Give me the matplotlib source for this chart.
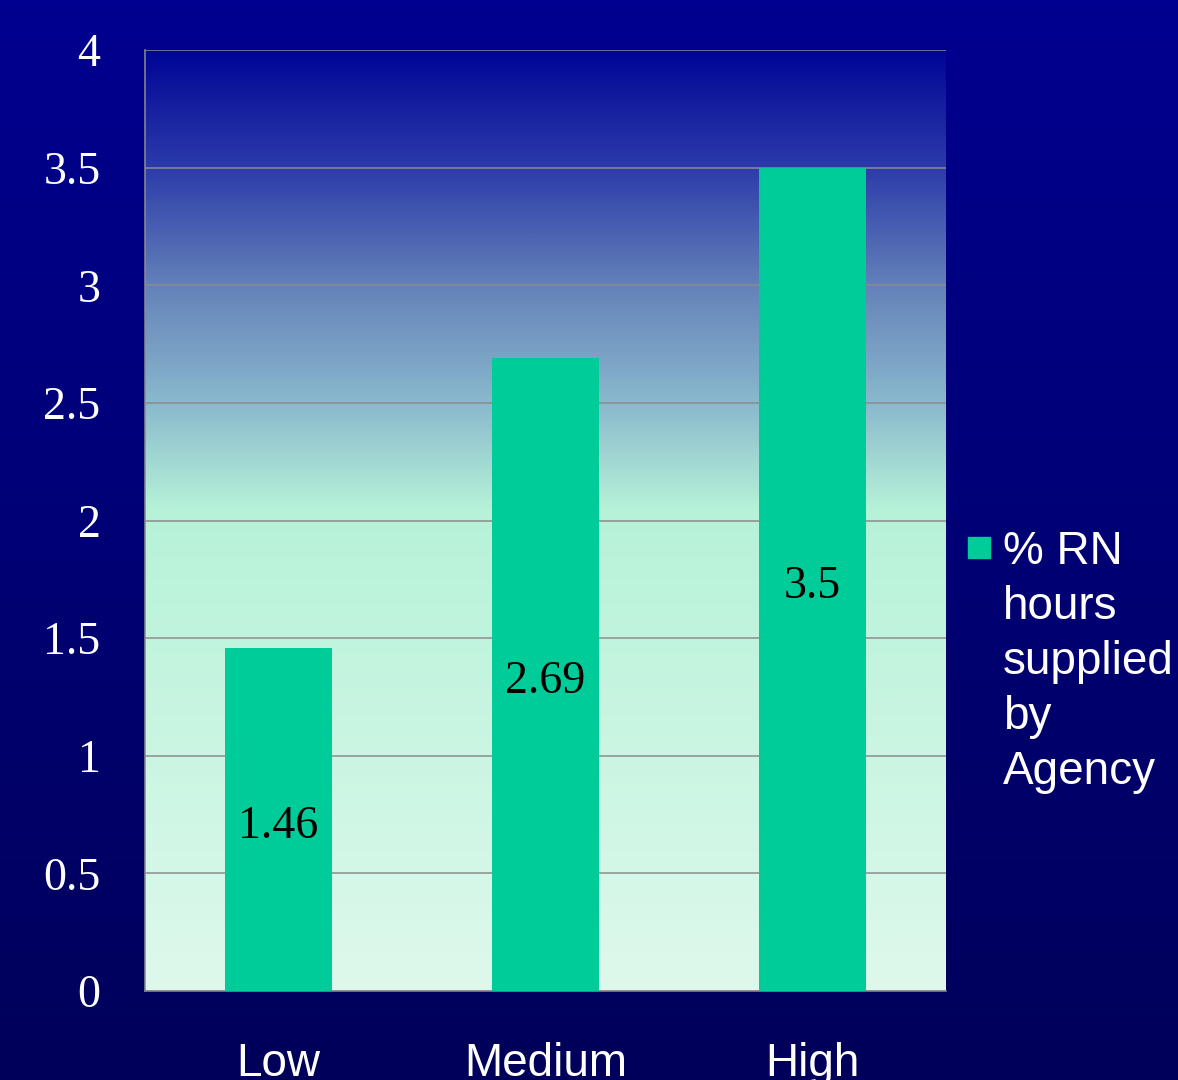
import matplotlib.pyplot as plt
import numpy as np
from matplotlib.colors import LinearSegmentedColormap

categories = ["Low", "Medium", "High"]
values = [1.46, 2.69, 3.5]
value_labels = ["1.46", "2.69", "3.5"]
yticks = [0, 0.5, 1, 1.5, 2, 2.5, 3, 3.5, 4]
ytick_labels = ["0", "0.5", "1", "1.5", "2", "2.5", "3", "3.5", "4"]
legend_label = "% RN\nhours\nsupplied\nby\nAgency"

bar_color = "#00CC99"
serif = ["Liberation Serif", "DejaVu Serif"]
sans = ["Liberation Sans", "DejaVu Sans"]

fig = plt.figure(figsize=(11.78, 10.8), dpi=100)

# dark navy slide background, fading downwards
bg = fig.add_axes([0, 0, 1, 1], zorder=-10)
bg_cmap = LinearSegmentedColormap.from_list("slide", ["#000090", "#00005a"])
bg.imshow(np.linspace(0, 1, 256).reshape(-1, 1), aspect="auto", cmap=bg_cmap,
          extent=[0, 1, 0, 1])
bg.set_axis_off()

ax = fig.add_axes([145 / 1178, 1 - 991 / 1080, 801 / 1178, 941 / 1080])
ax.set_xlim(-0.5, 2.5)
ax.set_ylim(0, 4)

# plot area: blue at the top blending into pale mint below 2
stops = [(0.0, (222, 249, 236)), (2.05 / 4, (182, 242, 216)),
         (2.5 / 4, (138, 185, 205)), (3.0 / 4, (100, 130, 185)),
         (3.5 / 4, (45, 60, 170)), (1.0, (0, 5, 150))]
area_cmap = LinearSegmentedColormap.from_list(
    "area", [(p, tuple(c / 255 for c in rgb)) for p, rgb in stops])
ax.imshow(np.linspace(0, 1, 512).reshape(-1, 1), origin="lower", aspect="auto",
          cmap=area_cmap, extent=[-0.5, 2.5, 0, 4], zorder=0)

x = np.arange(len(categories))
bars = ax.bar(x, values, width=0.4, color=bar_color, zorder=3)

# value labels sit halfway up each bar
for xi, v, lab in zip(x, values, value_labels):
    ax.annotate(lab, (xi, v / 2), xytext=(0, -13.5), textcoords="offset points",
                ha="center", va="baseline", fontsize=33, family=serif,
                color="black", zorder=4)

ax.set_yticks(yticks)
ax.set_yticklabels(ytick_labels, family=serif, fontsize=33, color="white")
ax.set_xticks(x)
ax.set_xticklabels(categories, family=sans, fontsize=33, color="white")
ax.tick_params(axis="y", length=0, pad=32)
ax.tick_params(axis="x", length=0, pad=37)

ax.grid(axis="y", color="#8c8c8c", linewidth=1.1, zorder=1)
ax.set_axisbelow(False)
for side in ["top", "right"]:
    ax.spines[side].set_visible(False)
for side in ["left", "bottom"]:
    ax.spines[side].set_color("#8c8c8c")
    ax.spines[side].set_linewidth(1.1)

# legend swatch and text
fig.patches.append(plt.Rectangle((968 / 1178, 1 - 558 / 1080), 22 / 1178, 21 / 1080,
                                 transform=fig.transFigure, color=bar_color))
fig.text(1003 / 1178, 1 - 530 / 1080, legend_label, ha="left", va="top",
         family=sans, fontsize=33, color="white", linespacing=1.32)

fig.savefig("out.png", dpi=100)
